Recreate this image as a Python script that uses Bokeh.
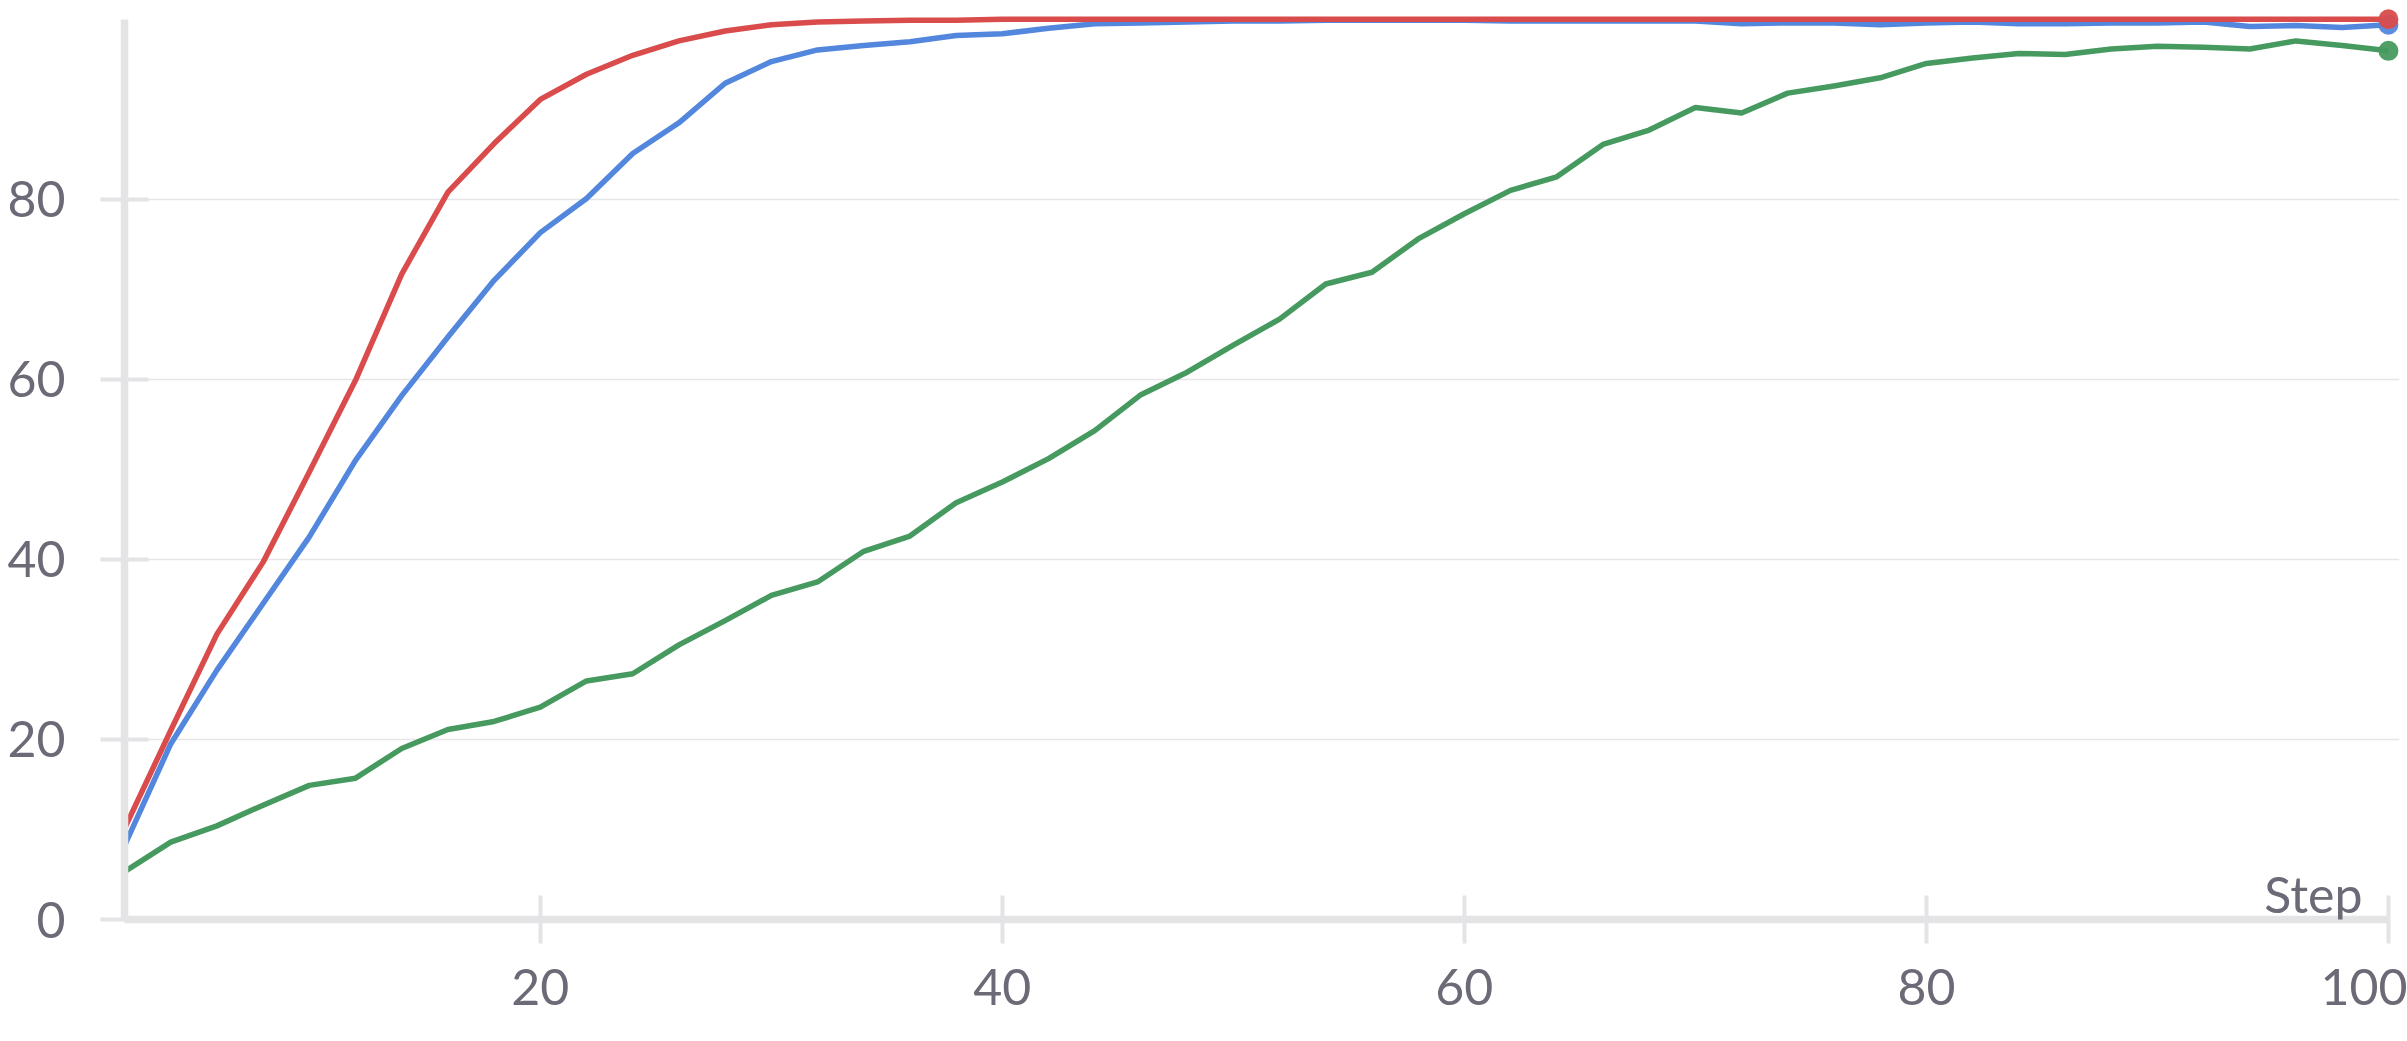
from bokeh.plotting import figure
from bokeh.models import Range1d, FixedTicker, Label
from bokeh.embed import file_html
from bokeh.resources import INLINE

steps = list(range(2, 101, 2))

red_vals = [10.1, 21.0, 31.7, 39.7, 49.7, 59.9, 71.7, 80.8, 86.2, 91.1,
            93.9, 96.0, 97.6, 98.7, 99.4, 99.7, 99.8, 99.9, 99.9, 100.0,
            100.0, 100.0, 100.0, 100.0, 100.0, 100.0, 100.0, 100.0, 100.0, 100.0,
            100.0, 100.0, 100.0, 100.0, 100.0, 100.0, 100.0, 100.0, 100.0, 100.0,
            100.0, 100.0, 100.0, 100.0, 100.0, 100.0, 100.0, 100.0, 100.0, 100.0]

blue_vals = [8.2, 19.5, 27.7, 35.1, 42.5, 51.0, 58.2, 64.7, 71.0, 76.3,
             80.1, 85.1, 88.5, 92.9, 95.3, 96.6, 97.1, 97.5, 98.2, 98.4,
             99.0, 99.5, 99.6, 99.7, 99.8, 99.8, 99.9, 99.9, 99.9, 99.9,
             99.8, 99.8, 99.8, 99.8, 99.8, 99.5, 99.6, 99.6, 99.4, 99.6,
             99.7, 99.5, 99.5, 99.6, 99.6, 99.7, 99.2, 99.3, 99.1, 99.4]

green_vals = [5.3, 8.6, 10.4, 12.7, 14.9, 15.7, 19.0, 21.1, 22.0, 23.6,
              26.5, 27.3, 30.5, 33.2, 36.0, 37.5, 40.9, 42.6, 46.3, 48.6,
              51.2, 54.3, 58.3, 60.8, 63.8, 66.7, 70.6, 71.9, 75.6, 78.4,
              81.0, 82.5, 86.1, 87.7, 90.2, 89.6, 91.8, 92.6, 93.5, 95.1,
              95.7, 96.2, 96.1, 96.7, 97.0, 96.9, 96.7, 97.6, 97.1, 96.5]

x_ticks = [20, 40, 60, 80, 100]
y_ticks = [0, 20, 40, 60, 80]
x_label = "Step"

FONT = "Lato"
TXT = "#6b6a76"
AX = "#e4e4e7"

p = figure(width=2407, height=1041, output_backend="svg", toolbar_location=None,
           x_range=Range1d(2, 100.48), y_range=Range1d(0, 101.2),
           min_border_left=124, min_border_right=8, min_border_top=8, min_border_bottom=122)
p.outline_line_color = None
p.background_fill_color = "white"
p.border_fill_color = "white"

p.xgrid.visible = False
p.ygrid.ticker = FixedTicker(ticks=[20, 40, 60, 80])
p.ygrid.grid_line_color = "#e6e6e8"
p.ygrid.grid_line_width = 1.5

for ax in (p.xaxis[0], p.yaxis[0]):
    ax.axis_line_color = AX
    ax.axis_line_width = 7.5
    ax.major_tick_line_color = AX
    ax.major_tick_line_width = 4
    ax.major_tick_in = 24
    ax.major_tick_out = 24
    ax.minor_tick_line_color = None
    ax.major_label_text_font = FONT
    ax.major_label_text_font_size = "50px"
    ax.major_label_text_color = TXT

p.xaxis[0].ticker = FixedTicker(ticks=x_ticks)
p.xaxis[0].bounds = (2, 100)
p.xaxis[0].major_label_standoff = 25
p.yaxis[0].ticker = FixedTicker(ticks=y_ticks)
p.yaxis[0].bounds = (0, 100)
p.yaxis[0].major_label_standoff = 35

series = [(green_vals, "#479A5F"), (blue_vals, "#5387DD"), (red_vals, "#DA4C4C")]
for vals, col in series:
    p.line(steps, vals, line_color=col, line_width=5.5, line_join="round")
for vals, col in series:
    p.scatter([steps[-1]], [vals[-1]], size=20, fill_color=col, line_color=None, fill_alpha=0.95)

p.add_layout(Label(x=100, y=0, x_offset=-26, y_offset=26, text=x_label,
                   text_font=FONT, text_font_size="50px", text_color=TXT,
                   text_align="right", text_baseline="alphabetic"))

open("out.html", "w").write(file_html(p, INLINE))
